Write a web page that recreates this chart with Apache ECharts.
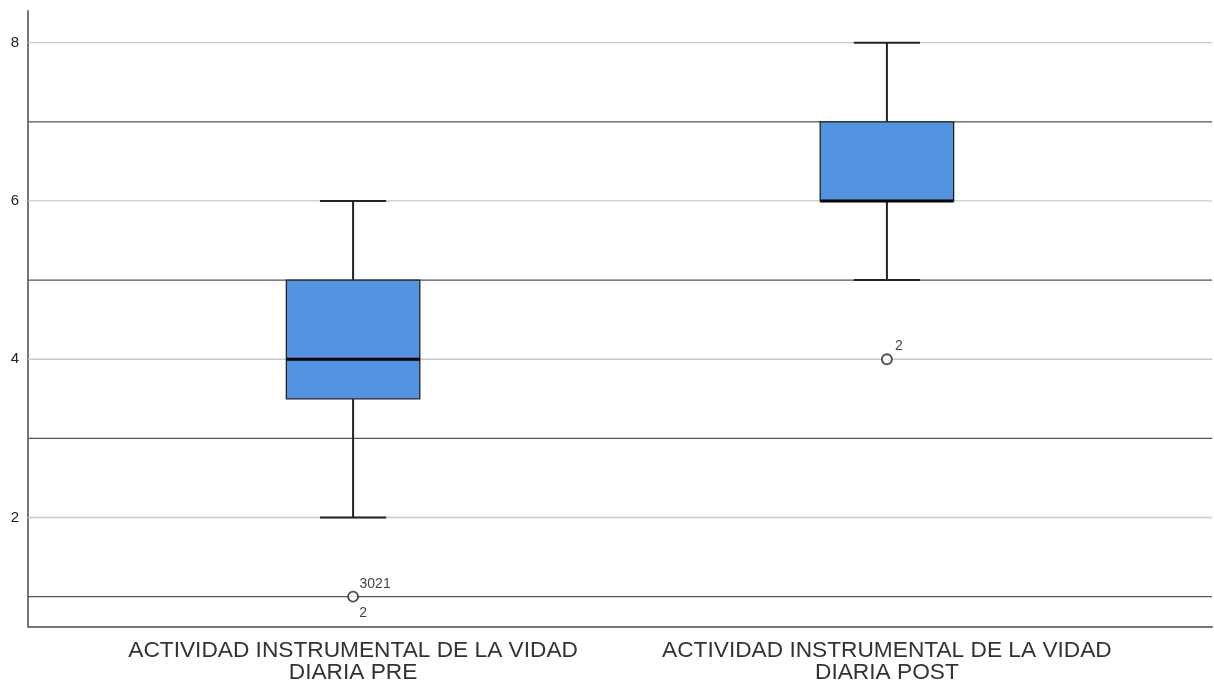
<!DOCTYPE html>
<html>
<head>
<meta charset="utf-8">
<script src="https://cdn.jsdelivr.net/npm/echarts@6/dist/echarts.min.js"></script>
<style>
  html, body { margin: 0; padding: 0; background: #fff; }
  #chart { width: 1214px; height: 684px; }
</style>
</head>
<body>
<div id="chart"></div>
<script>
// categories on x (positions 0 and 1)
const categories = [
  "ACTIVIDAD INSTRUMENTAL DE LA VIDAD\nDIARIA PRE",
  "ACTIVIDAD INSTRUMENTAL DE LA VIDAD\nDIARIA POST"
];
// [min, Q1, median, Q3, max]
const boxStats = [
  [2, 3.5, 4, 5, 6],
  [5, 6, 6, 7, 8]
];
// [category index, value]
const outlierPoints = [[0, 1], [1, 4]];
const outlierTopLabels = ["3021", "2"];
const outlierBottomLabels = ["2", ""];
const yTickLabels = [2, 4, 6, 8];
const gridValues = [1, 2, 3, 4, 5, 6, 7, 8];

const BOX_HALF = 0.125;   // half box width in x units
const CAP_HALF = 0.062;
const FONT = "Liberation Sans, Arial, sans-serif";

const chart = echarts.init(document.getElementById("chart"));

chart.setOption({
  backgroundColor: "#fff",
  animation: false,
  grid: { left: 28, right: 2, top: 11, bottom: 56 },
  xAxis: {
    type: "value",
    min: -0.609,
    max: 1.609,
    axisLine: { show: true, onZero: false, lineStyle: { color: "#777", width: 2 } },
    axisTick: { show: false },
    splitLine: { show: false },
    axisLabel: {
      customValues: [0, 1],
      formatter: (v) => categories[Math.round(v)] || "",
      fontFamily: FONT,
      fontSize: 22.7,
      lineHeight: 22,
      color: "#333",
      margin: 13
    }
  },
  yAxis: {
    type: "value",
    min: 0.623,
    max: 8.4,
    axisLine: { show: true, onZero: false, lineStyle: { color: "#777", width: 2 } },
    axisTick: { show: false },
    splitLine: { show: false },
    axisLabel: {
      customValues: yTickLabels,
      fontFamily: FONT,
      fontSize: 15,
      color: "#222",
      margin: 9
    }
  },
  series: [
    {
      // gridlines: odd values dark, even values light
      type: "custom",
      z: 1,
      silent: true,
      data: gridValues,
      renderItem: (params, api) => {
        const v = api.value(0);
        const cs = params.coordSys;
        const y = api.coord([0, v])[1];
        return {
          type: "line",
          shape: { x1: cs.x, y1: y, x2: cs.x + cs.width, y2: y },
          style: { stroke: v % 2 === 1 ? "#555" : "#c8c8c8", lineWidth: 1.3 }
        };
      }
    },
    {
      type: "custom",
      z: 3,
      silent: true,
      data: boxStats.map((b, i) => [i, ...b]),
      renderItem: (params, api) => {
        const x = api.value(0);
        const lo = api.value(1), q1 = api.value(2), med = api.value(3), q3 = api.value(4), hi = api.value(5);
        const pL = api.coord([x - BOX_HALF, q3]);
        const pR = api.coord([x + BOX_HALF, q1]);
        const cx = api.coord([x, 0])[0];
        const cL = api.coord([x - CAP_HALF, 0])[0];
        const cR = api.coord([x + CAP_HALF, 0])[0];
        const yLo = api.coord([x, lo])[1], yHi = api.coord([x, hi])[1];
        const yQ1 = pR[1], yQ3 = pL[1];
        const yMed = api.coord([x, med])[1];
        const line = { stroke: "#222", lineWidth: 2 };
        return {
          type: "group",
          children: [
            { type: "line", shape: { x1: cx, y1: yQ3, x2: cx, y2: yHi }, style: line },
            { type: "line", shape: { x1: cx, y1: yQ1, x2: cx, y2: yLo }, style: line },
            { type: "line", shape: { x1: cL, y1: yHi, x2: cR, y2: yHi }, style: line },
            { type: "line", shape: { x1: cL, y1: yLo, x2: cR, y2: yLo }, style: line },
            {
              type: "rect",
              shape: { x: pL[0], y: yQ3, width: pR[0] - pL[0], height: yQ1 - yQ3 },
              style: { fill: "#5294e2", stroke: "#222", lineWidth: 1.3 }
            },
            { type: "line", shape: { x1: pL[0], y1: yMed, x2: pR[0], y2: yMed }, style: { stroke: "#000", lineWidth: 3 } }
          ]
        };
      }
    },
    {
      type: "scatter",
      z: 4,
      silent: true,
      symbol: "circle",
      symbolSize: 10,
      itemStyle: { color: "#fff", borderColor: "#222", borderWidth: 1.8 },
      data: outlierPoints.map((p, i) => ({
        value: p,
        label: {
          show: true,
          formatter: outlierTopLabels[i],
          position: "inside",
          offset: [outlierTopLabels[i].length > 1 ? 22 : 12, -13],
          fontFamily: FONT,
          fontSize: 14,
          color: "#111"
        }
      }))
    },
    {
      type: "scatter",
      z: 4,
      silent: true,
      symbolSize: 0,
      data: outlierPoints.map((p, i) => ({
        value: p,
        label: {
          show: outlierBottomLabels[i] !== "",
          formatter: outlierBottomLabels[i] || " ",
          position: "inside",
          offset: [10, 16],
          fontFamily: FONT,
          fontSize: 14,
          color: "#111"
        }
      }))
    }
  ]
});
</script>
</body>
</html>
